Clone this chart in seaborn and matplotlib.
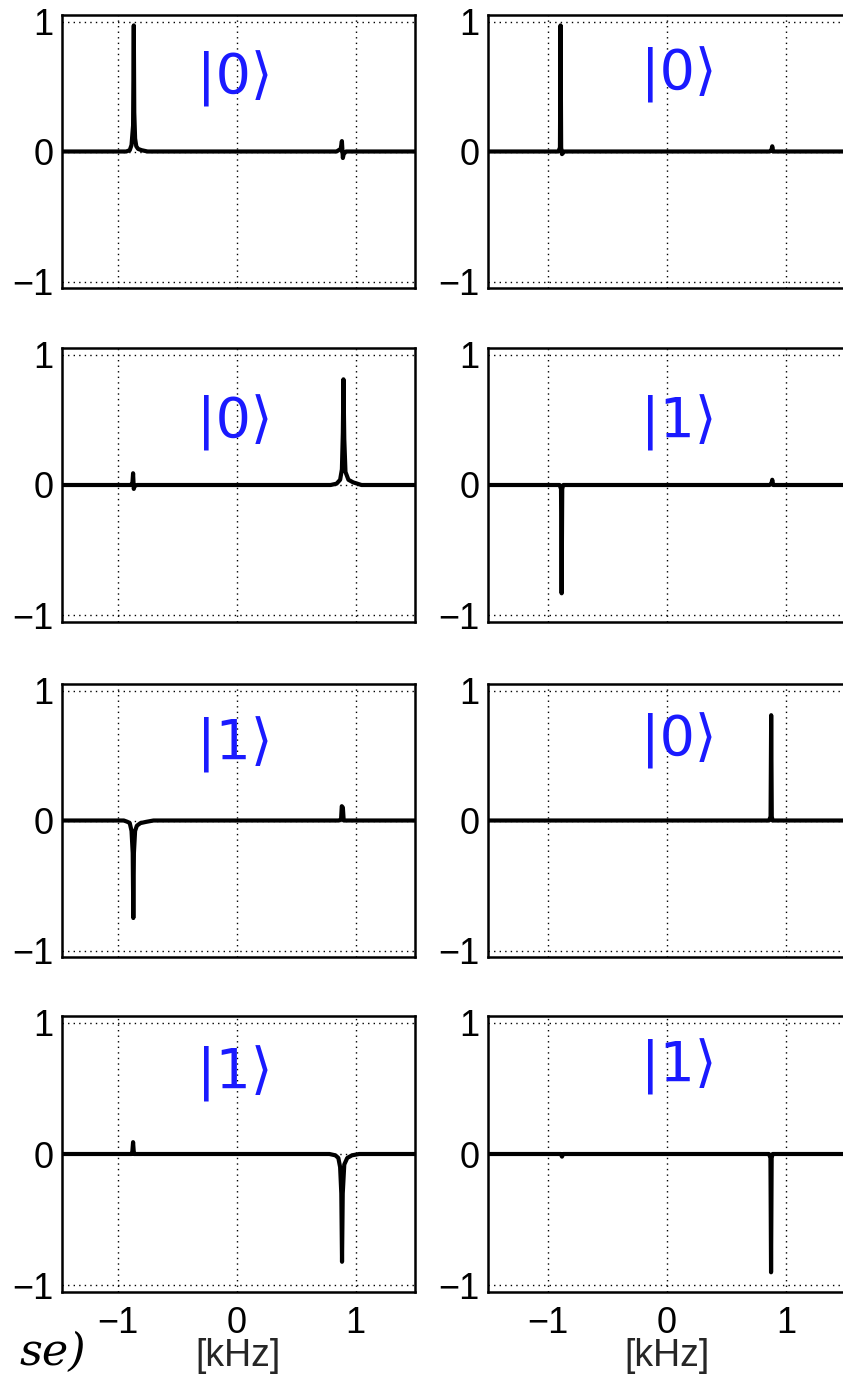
import matplotlib
matplotlib.use("Agg")
import matplotlib.pyplot as plt
import seaborn as sns
import pandas as pd

# spectra: frequency [kHz] and normalised amplitude
# left column (broader lines)
x_l1 = [-1.47, -0.93, -0.90, -0.885, -0.872, -0.866, -0.862, -0.855, -0.845, -0.83, -0.80, -0.75, 0.84, 0.875, 0.885, 0.893, 0.900, 0.92, 1.50]
y_l1 = [0.0, 0.0, 0.01, 0.05, 0.20, 0.97, 0.30, 0.10, 0.04, 0.02, 0.01, 0.0, 0.0, 0.02, 0.08, -0.05, -0.02, 0.0, 0.0]

x_l2 = [-1.47, -0.89, -0.877, -0.872, -0.866, -0.860, -0.84, 0.79, 0.84, 0.87, 0.885, 0.893, 0.898, 0.905, 0.915, 0.94, 0.98, 1.05, 1.50]
y_l2 = [0.0, 0.0, 0.02, 0.09, -0.03, -0.01, 0.0, 0.0, 0.01, 0.04, 0.12, 0.40, 0.81, 0.35, 0.10, 0.04, 0.02, 0.0, 0.0]

x_l3 = [-1.47, -0.95, -0.92, -0.90, -0.885, -0.875, -0.870, -0.865, -0.855, -0.84, -0.81, -0.76, -0.70, 0.86, 0.878, 0.884, 0.893, 0.90, 1.50]
y_l3 = [0.0, 0.0, -0.01, -0.02, -0.08, -0.25, -0.75, -0.25, -0.08, -0.04, -0.02, -0.01, 0.0, 0.0, 0.01, 0.11, 0.10, 0.0, 0.0]

x_l4 = [-1.47, -0.885, -0.878, -0.872, -0.865, -0.858, 0.78, 0.83, 0.855, 0.87, 0.880, 0.886, 0.892, 0.905, 0.93, 0.97, 1.03, 1.50]
y_l4 = [0.0, 0.0, 0.02, 0.09, 0.0, 0.0, 0.0, -0.01, -0.03, -0.10, -0.30, -0.82, -0.30, -0.08, -0.03, -0.01, 0.0, 0.0]

# right column (narrow lines)
x_r1 = [-1.50, -0.91, -0.897, -0.892, -0.887, -0.880, -0.86, 0.86, 0.875, 0.882, 0.89, 1.50]
y_r1 = [0.0, 0.0, 0.03, 0.97, 0.03, -0.02, 0.0, 0.0, 0.01, 0.04, 0.0, 0.0]

x_r2 = [-1.50, -0.90, -0.888, -0.883, -0.878, -0.870, 0.86, 0.875, 0.882, 0.89, 1.50]
y_r2 = [0.0, 0.0, -0.03, -0.83, -0.03, 0.0, 0.0, 0.01, 0.04, 0.0, 0.0]

x_r3 = [-1.50, 0.855, 0.868, 0.873, 0.878, 0.885, 1.50]
y_r3 = [0.0, 0.0, 0.03, 0.81, 0.03, 0.0, 0.0]

x_r4 = [-1.50, -0.89, -0.88, -0.87, 0.855, 0.867, 0.872, 0.877, 0.885, 1.50]
y_r4 = [0.0, 0.0, -0.02, 0.0, 0.0, -0.03, -0.90, -0.03, 0.0, 0.0]

kets = ["|0⟩", "|0⟩", "|1⟩", "|1⟩", "|0⟩", "|1⟩", "|0⟩", "|1⟩"]
ticks = [-1, 0, 1]
tick_labels = ["\u22121", "0", "1"]

panels = [(x_l1, y_l1), (x_l2, y_l2), (x_l3, y_l3), (x_l4, y_l4),
          (x_r1, y_r1), (x_r2, y_r2), (x_r3, y_r3), (x_r4, y_r4)]

sns.set_theme(style="white")
plt.rcParams['font.family'] = ['Liberation Sans', 'DejaVu Sans']

W, H = 843, 1378
fig = plt.figure(figsize=(W / 100, H / 100), dpi=100)

# axes boxes in pixels (left, right) and (top, bottom)
cols = [(62, 415, (-1.47, 1.5), -0.02), (488, 846, (-1.5, 1.5), 0.1)]
rows = [(15, 288), (348, 622), (684, 957), (1016, 1292)]
ket_y = [[0.56, 0.48, 0.58, 0.61], [0.59, 0.48, 0.61, 0.66]]

for c, (x0, x1, xlim, kx) in enumerate(cols):
    for r, (t, b) in enumerate(rows):
        i = c * 4 + r
        ax = fig.add_axes([x0 / W, 1 - b / H, (x1 - x0) / W, (b - t) / H])
        xs, ys = panels[i]
        df = pd.DataFrame({"f": xs, "a": ys})
        sns.lineplot(data=df, x="f", y="a", ax=ax, color="black", lw=3.0,
                     estimator=None, sort=False)
        ax.set_xlim(*xlim)
        ax.set_ylim(-1.05, 1.05)
        ax.set_xticks(ticks)
        ax.set_yticks(ticks)
        ax.set_yticklabels(tick_labels, fontsize=26)
        if r == 3:
            ax.set_xticklabels(tick_labels, fontsize=26)
            ax.set_xlabel("[kHz]", fontsize=27, labelpad=-2)
        else:
            ax.set_xticklabels([])
            ax.set_xlabel("")
        ax.set_ylabel("")
        ax.tick_params(direction="in", length=3, width=1, color="black",
                       pad=6, labelcolor="black")
        ax.tick_params(axis="x", pad=10)
        ax.grid(True, color="black", lw=1.0, linestyle=(0, (1, 3)))
        for s in ax.spines.values():
            s.set_color("black")
            s.set_linewidth(1.8)
        ax.text(kx, ket_y[c][r], kets[i], color="#1a1aff", fontsize=40,
                ha="center", va="center", family=["DejaVu Sans", "Noto Sans"])

# fragment of a neighbouring caption, cut at the page edge
fig.text(20 / W, 1 - 1352 / H, "se)", fontsize=32, style="italic",
         family=["DejaVu Serif"], va="center", ha="left", color="black")

fig.savefig("out.png", dpi=100)
